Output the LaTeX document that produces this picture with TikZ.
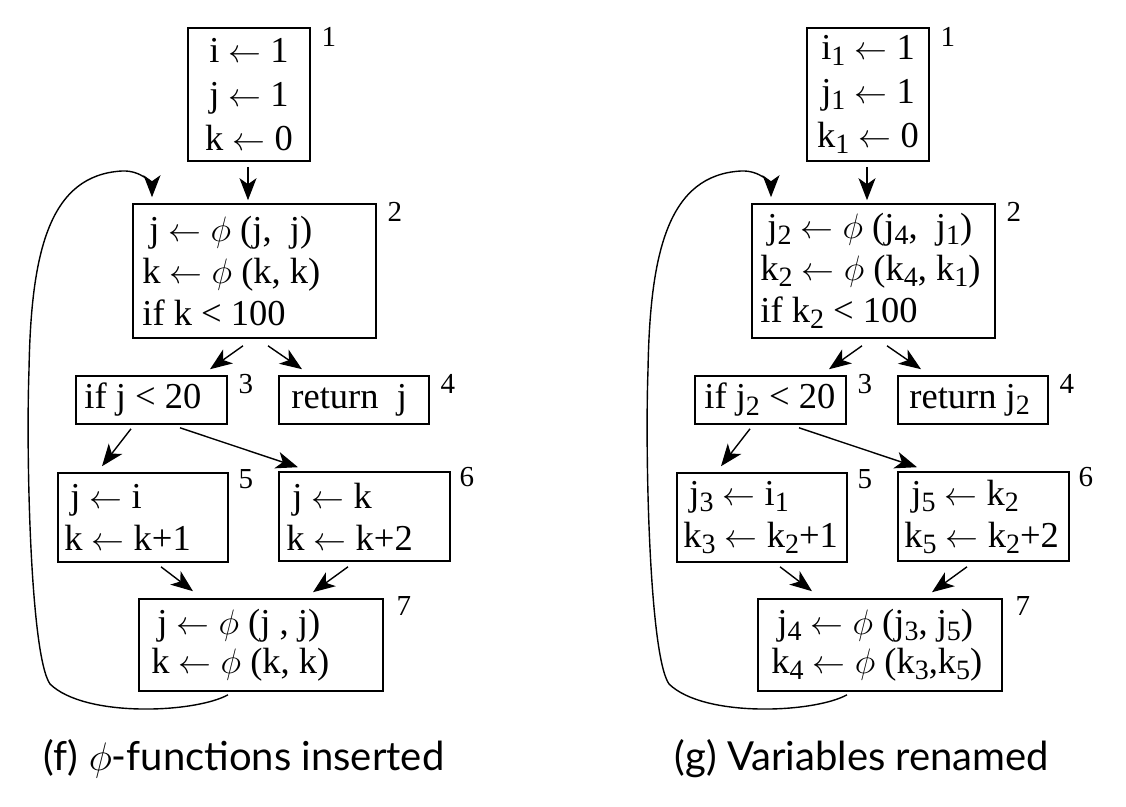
\documentclass[tikz,border=0pt]{standalone}
\usepackage{graphicx}
\usepackage{fontspec}
\setmainfont{Liberation Serif}
\newfontfamily\capfont{Lato}
\usetikzlibrary{arrows.meta}
\newcommand\sbs[1]{\raisebox{-0.36ex}{\fontsize{28}{28}\selectfont #1}}
\newcommand\ph{\scalebox{1.42}{\fontsize{24.88}{25}\selectfont$\phi$}}
\newcommand\cph{\scalebox{1.6}{\fontsize{24.88}{25}\selectfont$\phi$}}
\newcommand\la{\scalebox{1.32}{\fontsize{24.88}{25}\selectfont$\leftarrow$}}
\tikzset{
  blk/.style={draw, line width=1.6pt, inner sep=0pt},
  txt/.style={inner sep=0pt, anchor=west, align=left, font=\fontsize{36.5}{42}\selectfont},
  lbl/.style={font=\fontsize{29}{29}\selectfont, anchor=center, inner sep=0pt},
  arr/.style={-{Stealth[length=22pt,width=17pt,inset=6pt]}, line width=1.4pt},
  captext/.style={font=\capfont\fontsize{40}{40}\selectfont, anchor=base, inner sep=0pt}
}
\newcommand\edges[1]{%
  \draw[arr] ([xshift=-1,yshift=-5]#11.south) -- ([xshift=-6.5,yshift=3]#12.north);
  \draw[arr] ([xshift=-11.5,yshift=-7]#12.south) -- ([xshift=58.5,yshift=6]#13.north);
  \draw[arr] ([xshift=13.5,yshift=-7]#12.south) -- ([xshift=-52,yshift=6]#14.north);
  \draw[arr] ([xshift=-20.5,yshift=-4]#13.south) -- ([xshift=-41,yshift=6]#15.north);
  \draw[arr] ([xshift=28.5,yshift=-3]#13.south) -- ([xshift=-66.5,yshift=4]#16.north);
  \draw[arr] ([xshift=18,yshift=-4]#15.south) -- ([xshift=-68,yshift=7]#17.north);
  \draw[arr] ([xshift=-16.5,yshift=-5]#16.south) -- ([xshift=52,yshift=6]#17.north);
  \draw[arr] ([xshift=-33,yshift=-3]#17.south)
     .. controls (195,713) and (85,718) .. (50,684)
     .. controls (30,655) and (26,450) .. (29,370)
     .. controls (31,250) and (50,175) .. (122,171)
     .. controls (142,170) and (152,185) .. ([xshift=-102.5,yshift=6]#12.north);
  \foreach \n/\dx/\dy in {1/18/10,2/18/9,3/18/9,4/18/9,5/17/7,6/16/6,7/20/8}
    \node[lbl] (#1l\n) at ([xshift=\dx,yshift=-\dy]#1\n.north east) {\n};
}
\begin{document}
\begin{tikzpicture}[x=1pt,y=-1pt]
\useasboundingbox (0,0) rectangle (1126,806);
% ---------- (f) ----------
\node[blk, minimum width=122, minimum height=133] (a1) at (249,94.5) {};
\node[blk, minimum width=243, minimum height=134] (a2) at (254.5,271) {};
\node[blk, minimum width=151, minimum height=48] (a3) at (151.5,400) {};
\node[blk, minimum width=150, minimum height=48] (a4) at (354,400) {};
\node[blk, minimum width=170, minimum height=89] (a5) at (143,517.5) {};
\node[blk, minimum width=171, minimum height=89] (a6) at (364.5,516.5) {};
\node[blk, minimum width=244, minimum height=92] (a7) at (261,645) {};
\node[txt, anchor=center, align=center, font=\fontsize{36.5}{44}\selectfont] (a1t) at (a1.center)
  {i \la\ 1\\ j \la\ 1\\ k \la\ 0};
\node[txt] (a2t) at ([xshift=10]a2.west)
  {\hspace{7pt}j \la\ \ph\ (j,\ \ j)\\k \la\ \ph\ (k, k)\\if k < 100};
\node[txt] (a3t) at ([xshift=9]a3.west) {if j < 20};
\node[txt] (a4t) at ([xshift=13]a4.west) {return\ \ j};
\node[txt] (a5t) at ([xshift=7]a5.west) {\hspace{6pt}j \la\ i\\k \la\ k+1};
\node[txt] (a6t) at ([xshift=8]a6.west) {\hspace{6pt}j \la\ k\\k \la\ k+2};
\node[txt, font=\fontsize{36.5}{39}\selectfont] (a7t) at ([xshift=13]a7.west)
  {\hspace{6pt}j \la\ \ph\ (j , j)\\k \la\ \ph\ (k, k)};
\edges{a}
\node[captext] (capf) at (244,770) {(f) \cph-functions inserted};
% ---------- (g) ----------
\begin{scope}[xshift=619pt]
\node[blk, minimum width=122, minimum height=133] (b1) at (249,94.5) {};
\node[blk, minimum width=243, minimum height=134] (b2) at (254.5,271) {};
\node[blk, minimum width=151, minimum height=48] (b3) at (151.5,400) {};
\node[blk, minimum width=150, minimum height=48] (b4) at (354,400) {};
\node[blk, minimum width=170, minimum height=89] (b5) at (143,517.5) {};
\node[blk, minimum width=171, minimum height=89] (b6) at (364.5,516.5) {};
\node[blk, minimum width=244, minimum height=92] (b7) at (261,645) {};
\node[txt, anchor=center, align=center, font=\fontsize{36.5}{44}\selectfont] (b1t) at (b1.center)
  {i\sbs{1} \la\ 1\\ j\sbs{1} \la\ 1\\ k\sbs{1} \la\ 0};
\node[txt] (b2t) at ([xshift=9]b2.west)
  {\hspace{7pt}j\sbs{2} \la\ \ph\ (j\sbs{4},\ \ j\sbs{1})\\k\sbs{2} \la\ \ph\ (k\sbs{4}, k\sbs{1})\\if k\sbs{2} < 100};
\node[txt] (b3t) at ([xshift=10]b3.west) {if j\sbs{2} < 20};
\node[txt] (b4t) at ([xshift=12]b4.west) {return j\sbs{2}};
\node[txt] (b5t) at ([xshift=7]b5.west) {\hspace{6pt}j\sbs{3} \la\ i\sbs{1}\\k\sbs{3} \la\ k\sbs{2}+1};
\node[txt] (b6t) at ([xshift=7]b6.west) {\hspace{7pt}j\sbs{5} \la\ k\sbs{2}\\k\sbs{5} \la\ k\sbs{2}+2};
\node[txt, font=\fontsize{36.5}{39}\selectfont] (b7t) at ([xshift=14]b7.west)
  {\hspace{6pt}j\sbs{4} \la\ \ph\ (j\sbs{3}, j\sbs{5})\\k\sbs{4} \la\ \ph\ (k\sbs{3},k\sbs{5})};
\edges{b}
\node[captext] (capg) at (243,770) {(g) Variables renamed};
\end{scope}
\end{tikzpicture}
\end{document}
